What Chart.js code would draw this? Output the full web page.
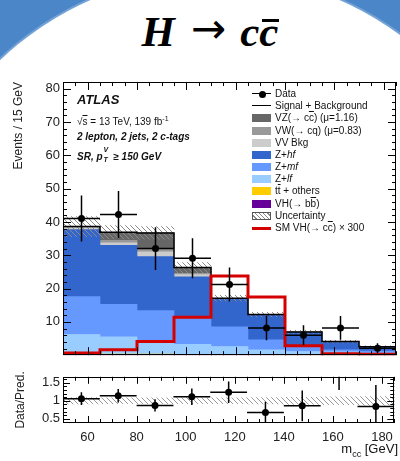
<!DOCTYPE html>
<html>
<head>
<meta charset="utf-8">
<script src="https://cdn.jsdelivr.net/npm/chart.js@4.4.1/dist/chart.umd.min.js"></script>
<style>
  html, body { margin: 0; padding: 0; }
  body { width: 400px; height: 461px; overflow: hidden; position: relative; background: #4a86c8; font-family: "Liberation Sans", Arial, sans-serif; color: #111; }
  #slide { position: absolute; left: -96px; top: -26px; width: 622px; height: 622px; border-radius: 50%; background: #fff; box-shadow: 0 0 0 2px #74a2d6; }
  #title { position: absolute; left: 0; width: 420px; top: 4px; text-align: center; font-family: "Liberation Serif", serif; font-weight: bold; font-style: italic; font-size: 43px; line-height: 50px; color: #000; }
  #title .arr { font-family: "DejaVu Sans", sans-serif; font-weight: normal; font-style: normal; font-size: 42px; vertical-align: 3px; margin: 0 14px 0 16px; }
  .ov { position: relative; }
  #title .ov::after { content: ""; position: absolute; left: 3px; right: -1px; top: 11px; border-top: 3px solid #000; }
  #main { position: absolute; left: 0; top: 70px; }
  #ratio { position: absolute; left: 0; top: 366px; }
  .txt { position: absolute; white-space: nowrap; color: #111; }
  .atl { left: 77px; font-size: 10px; line-height: 10px; }
  .bi { font-weight: bold; font-style: italic; }
  .row { position: absolute; left: 252px; height: 12px; line-height: 12px; font-size: 10px; white-space: nowrap; color: #111; }
  .sw { display: inline-block; width: 19px; height: 8px; margin-right: 4px; vertical-align: -1px; position: relative; }
  .ln::after { content: ""; position: absolute; left: 0; right: 0; top: 3px; border-top: 1.5px solid #000; }
  .dot::before { content: ""; position: absolute; left: 6.5px; top: 0.5px; width: 7px; height: 7px; border-radius: 50%; background: #000; }
  .red::after { content: ""; position: absolute; left: 0; right: 0; top: 2.5px; border-top: 3px solid #d40000; }
  .hatch { box-sizing: border-box; border: 1px solid #555; background: repeating-linear-gradient(45deg, #fff 0px, #fff 2px, #888 2px, #888 3px); }
  .ovs { text-decoration: overline; }
  .ss { display: inline-block; position: relative; width: 8px; height: 10px; }
  .ss .sp { position: absolute; left: 1px; top: -5px; font-size: 7px; }
  .ss .sb { position: absolute; left: 1px; top: 5px; font-size: 7px; }
</style>
</head>
<body>
<div id="slide"></div>
<div id="title">H<span class="arr">→</span>c<span class="ov">c</span></div>

<canvas id="main" width="400" height="296"></canvas>
<canvas id="ratio" width="400" height="95"></canvas>

<div class="txt bi" style="left:77px; top:93px; font-size:13px; line-height:13px;">ATLAS</div>
<div class="txt atl" style="top:114px;">√<span class="ovs">s</span> = 13 TeV, 139 fb<sup style="font-size:7px">-1</sup></div>
<div class="txt atl bi" style="top:132px;">2 lepton, 2 jets, 2 c-tags</div>
<div class="txt atl bi" style="top:150px;">SR, p<span class="ss"><span class="sp">V</span><span class="sb">T</span></span> ≥ 150 GeV</div>

<div class="row" style="top:88px"><span class="sw ln dot"></span>Data</div>
<div class="row" style="top:100.2px"><span class="sw ln"></span>Signal + Background</div>
<div class="row" style="top:112.4px"><span class="sw" style="background:#666666"></span>VZ(→ c<span class="ovs">c</span>) (μ=1.16)</div>
<div class="row" style="top:124.5px"><span class="sw" style="background:#999999"></span>VW(→ cq) (μ=0.83)</div>
<div class="row" style="top:136.7px"><span class="sw" style="background:#cccccc"></span>VV Bkg</div>
<div class="row" style="top:148.9px"><span class="sw" style="background:#3366cc"></span>Z+<i>hf</i></div>
<div class="row" style="top:161.1px"><span class="sw" style="background:#6699ff"></span>Z+<i>mf</i></div>
<div class="row" style="top:173.3px"><span class="sw" style="background:#99ccff"></span>Z+<i>lf</i></div>
<div class="row" style="top:185.4px"><span class="sw" style="background:#ffcc00"></span>t<span class="ovs">t</span> + others</div>
<div class="row" style="top:197.6px"><span class="sw" style="background:#660099"></span>VH(→ b<span class="ovs">b</span>)</div>
<div class="row" style="top:209.8px"><span class="sw hatch"></span>Uncertainty</div>
<div class="row" style="top:222px"><span class="sw red"></span>SM VH(→ c<span class="ovs">c</span>) × 300</div>

<div class="txt" style="right:2px; top:442px; font-size:13px; line-height:14px;">m<sub style="font-size:9px">cc</sub> [GeV]</div>

<script>
// bins of m_cc (15 GeV wide)
const binEdges = [50, 65, 80, 95, 110, 125, 140, 155, 170, 185];
const binCenters = [57.5, 72.5, 87.5, 102.5, 117.5, 132.5, 147.5, 162.5, 177.5];

// stacked backgrounds, bottom to top
const vhbb     = [0.1, 0.1, 0.1, 0.1, 0.1, 0.1, 0.0, 0.0, 0.0];
const ttOthers = [0.2, 0.2, 0.2, 0.1, 0.1, 0.1, 0.1, 0.0, 0.0];
const zlf      = [5.9, 5.2, 3.6, 3.1, 2.4, 1.4, 1.0, 1.0, 0.6];
const zmf      = [11.4, 9.8, 9.5, 8.4, 5.9, 3.0, 1.5, 0.6, 0.6];
const zhf      = [20.1, 17.7, 16.2, 11.8, 8.3, 7.4, 4.3, 2.4, 1.2];
const vvBkg    = [0.5, 0.7, 1.4, 0.7, 0.1, 0.1, 0.0, 0.0, 0.0];
const vw       = [0.2, 0.8, 1.0, 0.4, 0.1, 0.0, 0.0, 0.0, 0.0];
const vz       = [0.2, 2.4, 4.7, 1.7, 0.1, 0.1, 0.1, 0.1, 0.1];
const bkgUnc   = [3.0, 2.0, 1.9, 1.5, 0.9, 0.7, 0.5, 0.4, 0.3];

const dataVals = [41.0, 42.2, 32.0, 29.1, 21.2, 8.2, 6.0, 8.2, 2.1];
const dataErr  = [6.9, 7.1, 6.4, 6.0, 5.1, 3.7, 3.0, 3.6, 1.5];
const signalX300 = [0.65, 1.6, 4.1, 11.4, 23.8, 17.5, 2.8, 0.4, 0.3];

// lower panel
const ratioVals = [1.06, 1.14, 0.87, 1.11, 1.24, 0.67, 0.86, 2.0, 0.84];
const ratioErr  = [0.18, 0.19, 0.17, 0.23, 0.30, 0.30, 0.43, 0.7, 0.6];
const ratioUnc  = [0.09, 0.08, 0.08, 0.08, 0.08, 0.09, 0.1, 0.11, 0.12];

const xTicks = [60, 80, 100, 120, 140, 160, 180];
const xMinor = [55, 65, 70, 75, 85, 90, 95, 105, 110, 115, 125, 130, 135, 145, 150, 155, 165, 170, 175, 185];
const yTicksMain = [10, 20, 30, 40, 50, 60, 70, 80];
const yMinorMain = [2, 4, 6, 8, 12, 14, 16, 18, 22, 24, 26, 28, 32, 34, 36, 38, 42, 44, 46, 48, 52, 54, 56, 58, 62, 64, 66, 68, 72, 74, 76, 78, 82];
const yTicksRatio = [0.5, 1, 1.5];
const yMinorRatio = [0.4, 0.6, 0.7, 0.8, 0.9, 1.1, 1.2, 1.3, 1.4, 1.6];

const FONT = '"Liberation Sans", Arial, sans-serif';
const total = binCenters.map((_, i) => vhbb[i] + ttOthers[i] + zlf[i] + zmf[i] + zhf[i] + vvBkg[i] + vw[i] + vz[i]);

function pts(vals) { return binCenters.map((x, i) => ({x: x, y: vals[i]})); }
function steps(vals) { return binEdges.map((x, i) => ({x: x, y: vals[Math.min(i, vals.length - 1)]})); }
function band(center, half) { return binCenters.map((x, i) => ({x: x, y: [center[i] - half[i], center[i] + half[i]]})); }

function hatch(color, step) {
  const c = document.createElement('canvas');
  c.width = step; c.height = step;
  const g = c.getContext('2d');
  g.strokeStyle = color; g.lineWidth = 1;
  g.beginPath();
  for (let k = -step; k <= step; k += step) { g.moveTo(k, 0); g.lineTo(k + step, step); }
  g.stroke();
  return g.createPattern(c, 'repeat');
}

function bkg(label, vals, color) {
  return { type: 'bar', label: label, data: pts(vals), backgroundColor: color, borderWidth: 0,
           stack: 'bkg', grouped: false, barPercentage: 1, categoryPercentage: 1 };
}

// frame + inward ticks, ROOT style
const frameTicks = {
  id: 'frameTicks',
  afterDraw(chart, args, o) {
    const {ctx, chartArea: a, scales: {x, y}} = chart;
    ctx.save();
    ctx.strokeStyle = '#000';
    ctx.lineWidth = 1;
    ctx.beginPath();
    const xt = (v, len) => { const p = Math.round(x.getPixelForValue(v)) + 0.5;
      ctx.moveTo(p, a.bottom); ctx.lineTo(p, a.bottom - len); ctx.moveTo(p, a.top); ctx.lineTo(p, a.top + len); };
    const yt = (v, len) => { const p = Math.round(y.getPixelForValue(v)) + 0.5;
      ctx.moveTo(a.left, p); ctx.lineTo(a.left + len, p); ctx.moveTo(a.right, p); ctx.lineTo(a.right - len, p); };
    o.xMajor.forEach(v => xt(v, o.major));
    o.xMinor.forEach(v => xt(v, o.minor));
    o.yMajor.forEach(v => yt(v, o.major));
    o.yMinor.forEach(v => yt(v, o.minor));
    ctx.stroke();
    ctx.strokeRect(Math.round(a.left) + 0.5, Math.round(a.top) + 0.5, Math.round(a.width) - 1, Math.round(a.height) - 1);
    ctx.restore();
  }
};

const errorBars = {
  id: 'errorBars',
  afterDatasetsDraw(chart) {
    const {ctx, chartArea: a, scales: {x, y}} = chart;
    ctx.save();
    ctx.beginPath(); ctx.rect(a.left, a.top, a.width, a.height); ctx.clip();
    ctx.strokeStyle = '#000';
    ctx.lineWidth = 1.5;
    chart.data.datasets.forEach(ds => {
      if (!ds.errY) return;
      ds.data.forEach((p, i) => {
        const px = x.getPixelForValue(p.x), py = y.getPixelForValue(p.y);
        ctx.beginPath();
        ctx.moveTo(px, y.getPixelForValue(p.y + ds.errY[i]));
        ctx.lineTo(px, y.getPixelForValue(p.y - ds.errY[i]));
        ctx.moveTo(x.getPixelForValue(p.x - ds.halfWidth), py);
        ctx.lineTo(x.getPixelForValue(p.x + ds.halfWidth), py);
        ctx.stroke();
      });
    });
    ctx.restore();
  }
};

Chart.defaults.font.family = FONT;
Chart.defaults.color = '#222';

new Chart(document.getElementById('main'), {
  type: 'bar',
  data: {
    datasets: [
      { type: 'line', label: 'Data', data: pts(dataVals), showLine: false, pointRadius: 3.5, pointBackgroundColor: '#000',
        pointBorderWidth: 0, stack: 'data', errY: dataErr, halfWidth: 7.5 },
      { type: 'line', label: 'SM VH(cc) x 300', data: steps(signalX300), stepped: 'before', borderColor: '#d40000',
        borderWidth: 3, pointRadius: 0, fill: false, stack: 'sig' },
      { type: 'line', label: 'Signal + Background', data: steps(total), stepped: 'before', borderColor: '#000',
        borderWidth: 1.5, pointRadius: 0, fill: false, stack: 'tot' },
      { type: 'bar', label: 'Uncertainty', data: band(total, bkgUnc), backgroundColor: hatch('#8a8a8a', 5),
        borderWidth: 0, stack: 'unc', grouped: false, barPercentage: 1, categoryPercentage: 1 },
      bkg('VH(bb)', vhbb, '#660099'),
      bkg('tt + others', ttOthers, '#ffcc00'),
      bkg('Z+lf', zlf, '#99ccff'),
      bkg('Z+mf', zmf, '#6699ff'),
      bkg('Z+hf', zhf, '#3366cc'),
      bkg('VV Bkg', vvBkg, '#cccccc'),
      bkg('VW', vw, '#999999'),
      bkg('VZ', vz, '#666666')
    ]
  },
  options: {
    responsive: false,
    animation: false,
    layout: { padding: { top: 12, right: 2, bottom: 5.5, left: 0 } },
    plugins: {
      legend: { display: false },
      tooltip: { enabled: false },
      frameTicks: { xMajor: xTicks, xMinor: xMinor, yMajor: yTicksMain, yMinor: yMinorMain, major: 8, minor: 4 }
    },
    scales: {
      x: { type: 'linear', min: 50, max: 185, offset: false, display: false,
           afterBuildTicks: s => { s.ticks = xTicks.map(v => ({value: v})); } },
      y: { stacked: true, min: 0, max: 82,
           afterBuildTicks: s => { s.ticks = yTicksMain.map(v => ({value: v})); },
           afterFit: s => { s.width = 63; },
           grid: { display: false, drawTicks: false }, border: { display: false },
           ticks: { font: { size: 13 }, color: '#222', padding: 3 },
           title: { display: true, text: 'Events / 15 GeV', align: 'end', font: { size: 12 }, color: '#222',
                    padding: { top: 11, bottom: 0 } } }
    }
  },
  plugins: [frameTicks, errorBars]
});

new Chart(document.getElementById('ratio'), {
  type: 'bar',
  data: {
    datasets: [
      { type: 'line', label: 'Data/Pred.', data: pts(ratioVals), showLine: false, pointRadius: 3.5,
        pointBackgroundColor: '#000', pointBorderWidth: 0, errY: ratioErr, halfWidth: 7.5, clip: 0 },
      { type: 'bar', label: 'Uncertainty', data: band(ratioVals.map(() => 1), ratioUnc), backgroundColor: hatch('#9a9a9a', 5),
        borderWidth: 0, grouped: false, barPercentage: 1, categoryPercentage: 1 }
    ]
  },
  options: {
    responsive: false,
    animation: false,
    layout: { padding: { top: 2, right: 2, bottom: 0, left: 0 } },
    plugins: {
      legend: { display: false },
      tooltip: { enabled: false },
      frameTicks: { xMajor: xTicks, xMinor: xMinor, yMajor: yTicksRatio, yMinor: yMinorRatio, major: 7, minor: 4 }
    },
    scales: {
      x: { type: 'linear', min: 50, max: 185, offset: false,
           afterBuildTicks: s => { s.ticks = xTicks.map(v => ({value: v})); },
           afterFit: s => { s.height = 38; },
           grid: { display: false, drawTicks: false }, border: { display: false },
           ticks: { font: { size: 13 }, color: '#222', padding: 7, maxRotation: 0, autoSkip: false } },
      y: { min: 0.38, max: 1.67,
           afterBuildTicks: s => { s.ticks = yTicksRatio.map(v => ({value: v})); },
           afterFit: s => { s.width = 63; },
           grid: { display: false, drawTicks: false }, border: { display: false },
           ticks: { font: { size: 13 }, color: '#222', padding: 3, callback: v => String(v) },
           title: { display: true, text: 'Data/Pred.', align: 'center', font: { size: 12 }, color: '#222',
                    padding: { top: 13, bottom: 0 } } }
    }
  },
  plugins: [frameTicks, errorBars]
});
</script>
</body>
</html>
